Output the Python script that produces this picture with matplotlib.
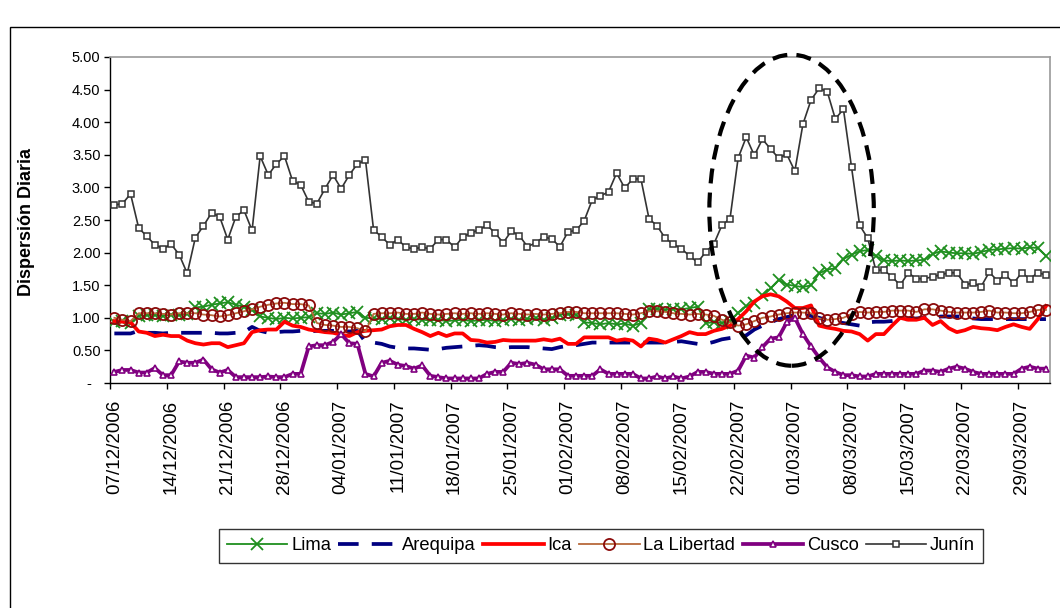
import numpy as np
import pandas as pd
import matplotlib
matplotlib.use("Agg")
import matplotlib.pyplot as plt
from matplotlib.patches import Ellipse, Rectangle

plt.rcParams['font.family'] = ['Liberation Sans', 'DejaVu Sans']

# ---------------- data ----------------
dates = pd.date_range("2006-12-07", "2007-04-01", freq="D")

lima = [0.93, 0.95, 0.92, 1.03, 1.04, 1.05, 1.03, 1.05, 1.04, 1.06,
        1.16, 1.17, 1.20, 1.22, 1.24, 1.20, 1.17, 1.12, 1.02, 1.00,
        0.98, 1.00, 0.99, 1.00, 1.01, 1.07, 1.06, 1.08, 1.05, 1.07,
        1.09, 1.00, 0.99, 0.98, 1.00, 0.98, 0.97, 0.98, 0.97, 0.96,
        0.97, 0.95, 0.96, 0.97, 0.95, 0.96, 0.97, 0.95, 0.96, 0.98,
        0.97, 0.98, 0.99, 0.97, 0.99, 1.05, 1.06, 1.05, 0.93, 0.92,
        0.90, 0.92, 0.90, 0.91, 0.88, 0.92, 1.13, 1.14, 1.12, 1.14,
        1.13, 1.15, 1.17, 0.92, 0.93, 0.92, 0.95, 1.08, 1.18, 1.22,
        1.35, 1.45, 1.58, 1.51, 1.49, 1.47, 1.50, 1.68, 1.74, 1.76,
        1.90, 1.97, 2.02, 2.04, 1.95, 1.88, 1.87, 1.88, 1.87, 1.88,
        1.89, 1.98, 2.02, 2.00, 1.99, 1.99, 1.98, 2.01, 2.04, 2.05,
        2.06, 2.07, 2.06, 2.08, 2.07, 1.95]

arequipa = [0.76, 0.76, 0.76, 0.80, 0.77, 0.77, 0.76, 0.77, 0.77, 0.77,
            0.77, 0.77, 0.77, 0.76, 0.76, 0.77, 0.78, 0.86, 0.80, 0.77,
            0.78, 0.79, 0.79, 0.80, 0.79, 0.80, 0.80, 0.80, 0.80, 0.79,
            0.80, 0.63, 0.62, 0.60, 0.56, 0.54, 0.53, 0.53, 0.52, 0.51,
            0.52, 0.54, 0.55, 0.56, 0.57, 0.58, 0.57, 0.55, 0.54, 0.55,
            0.55, 0.55, 0.54, 0.53, 0.52, 0.55, 0.57, 0.58, 0.60, 0.62,
            0.62, 0.62, 0.62, 0.62, 0.62, 0.62, 0.62, 0.62, 0.62, 0.63,
            0.64, 0.62, 0.60, 0.60, 0.63, 0.67, 0.69, 0.71, 0.73, 0.82,
            0.88, 0.93, 0.98, 1.01, 1.04, 1.05, 1.03, 1.00, 0.96, 0.94,
            0.92, 0.90, 0.88, 0.93, 0.94, 0.94, 0.95, 0.97, 0.98, 0.99,
            1.00, 0.98, 1.02, 1.02, 1.02, 1.02, 0.99, 0.98, 0.98, 0.98,
            0.98, 0.98, 0.98, 0.98, 0.98, 0.98]

ica = [0.95, 0.94, 0.93, 0.79, 0.77, 0.72, 0.74, 0.72, 0.72, 0.65,
       0.61, 0.59, 0.61, 0.61, 0.55, 0.58, 0.61, 0.78, 0.81, 0.82,
       0.82, 0.94, 0.88, 0.86, 0.82, 0.80, 0.78, 0.77, 0.74, 0.72,
       0.78, 0.80, 0.81, 0.82, 0.87, 0.89, 0.89, 0.83, 0.78, 0.72,
       0.77, 0.72, 0.76, 0.76, 0.66, 0.65, 0.62, 0.63, 0.66, 0.65,
       0.65, 0.65, 0.65, 0.67, 0.65, 0.68, 0.60, 0.60, 0.70, 0.70,
       0.70, 0.70, 0.65, 0.67, 0.65, 0.56, 0.68, 0.66, 0.62, 0.67,
       0.72, 0.78, 0.75, 0.75, 0.80, 0.83, 0.88, 0.98, 1.10, 1.25,
       1.33, 1.36, 1.33, 1.25, 1.15, 1.15, 1.19, 0.88, 0.85, 0.83,
       0.80, 0.79, 0.75, 0.65, 0.75, 0.75, 0.88, 1.00, 0.97, 0.97,
       1.00, 0.89, 0.95, 0.84, 0.78, 0.81, 0.86, 0.84, 0.83, 0.81,
       0.86, 0.90, 0.86, 0.83, 0.98, 1.18]

la_libertad = [1.00, 0.97, 0.95, 1.07, 1.07, 1.07, 1.06, 1.05, 1.07, 1.07,
               1.07, 1.05, 1.04, 1.02, 1.04, 1.07, 1.10, 1.13, 1.17, 1.20,
               1.22, 1.23, 1.21, 1.21, 1.19, 0.92, 0.89, 0.88, 0.86, 0.86,
               0.84, 0.79, 1.06, 1.07, 1.07, 1.08, 1.06, 1.06, 1.08, 1.06,
               1.05, 1.06, 1.07, 1.06, 1.07, 1.06, 1.07, 1.06, 1.05, 1.07,
               1.06, 1.05, 1.06, 1.05, 1.06, 1.07, 1.09, 1.09, 1.07, 1.07,
               1.07, 1.07, 1.07, 1.06, 1.05, 1.07, 1.10, 1.10, 1.09, 1.07,
               1.06, 1.05, 1.06, 1.05, 1.03, 0.97, 0.93, 0.88, 0.90, 0.95,
               1.00, 1.02, 1.05, 1.07, 1.08, 1.08, 1.07, 0.99, 0.97, 0.98,
               1.00, 1.06, 1.09, 1.08, 1.09, 1.09, 1.11, 1.11, 1.11, 1.09,
               1.13, 1.13, 1.11, 1.09, 1.08, 1.08, 1.08, 1.09, 1.11, 1.08,
               1.08, 1.07, 1.07, 1.09, 1.12, 1.12]

cusco = [0.17, 0.20, 0.20, 0.16, 0.16, 0.23, 0.12, 0.12, 0.33, 0.31,
         0.31, 0.36, 0.21, 0.16, 0.20, 0.09, 0.09, 0.09, 0.09, 0.10,
         0.09, 0.09, 0.14, 0.14, 0.56, 0.58, 0.58, 0.63, 0.75, 0.61,
         0.60, 0.14, 0.10, 0.31, 0.34, 0.28, 0.26, 0.22, 0.27, 0.11,
         0.09, 0.07, 0.07, 0.07, 0.07, 0.07, 0.14, 0.17, 0.17, 0.31,
         0.29, 0.31, 0.28, 0.21, 0.21, 0.21, 0.11, 0.11, 0.11, 0.11,
         0.21, 0.14, 0.14, 0.14, 0.14, 0.07, 0.07, 0.10, 0.07, 0.10,
         0.07, 0.10, 0.17, 0.17, 0.14, 0.14, 0.14, 0.19, 0.42, 0.39,
         0.55, 0.68, 0.70, 0.93, 1.00, 0.75, 0.56, 0.39, 0.24, 0.17,
         0.12, 0.12, 0.10, 0.10, 0.14, 0.14, 0.14, 0.14, 0.14, 0.14,
         0.19, 0.19, 0.17, 0.22, 0.25, 0.22, 0.17, 0.14, 0.14, 0.14,
         0.14, 0.14, 0.22, 0.25, 0.22, 0.22]

junin = [2.73, 2.75, 2.90, 2.38, 2.25, 2.12, 2.06, 2.13, 1.97, 1.68,
         2.23, 2.41, 2.61, 2.55, 2.20, 2.55, 2.65, 2.34, 3.48, 3.19,
         3.36, 3.48, 3.10, 3.04, 2.78, 2.75, 2.98, 3.19, 2.98, 3.19,
         3.36, 3.42, 2.35, 2.24, 2.12, 2.20, 2.08, 2.06, 2.08, 2.06,
         2.20, 2.20, 2.08, 2.24, 2.30, 2.35, 2.42, 2.30, 2.15, 2.33,
         2.26, 2.09, 2.15, 2.24, 2.21, 2.09, 2.32, 2.34, 2.49, 2.81,
         2.87, 2.93, 3.22, 2.99, 3.13, 3.13, 2.52, 2.41, 2.22, 2.13,
         2.06, 1.95, 1.85, 2.01, 2.13, 2.42, 2.52, 3.45, 3.77, 3.49,
         3.74, 3.59, 3.45, 3.51, 3.25, 3.97, 4.34, 4.52, 4.47, 4.05,
         4.20, 3.31, 2.42, 2.22, 1.73, 1.73, 1.63, 1.50, 1.69, 1.60,
         1.60, 1.63, 1.66, 1.69, 1.69, 1.51, 1.53, 1.48, 1.70, 1.57,
         1.66, 1.53, 1.69, 1.60, 1.69, 1.66]

series_names = ["Lima", "Arequipa", "Ica", "La Libertad", "Cusco", "Junín"]
y_ticks = [0.0, 0.5, 1.0, 1.5, 2.0, 2.5, 3.0, 3.5, 4.0, 4.5, 5.0]
y_tick_labels = ["-  ", "0.50", "1.00", "1.50", "2.00", "2.50", "3.00",
                 "3.50", "4.00", "4.50", "5.00"]
tick_step_days = 7
# highlighted period (ellipse): centre day index, centre value, spans
highlight = dict(center_day=83.6, center_val=2.65, span_days=20.3, span_val=4.77)

# ---------------- figure ----------------
W, H = 1060, 608
fig = plt.figure(figsize=(W / 100, H / 100), dpi=100)
fig.patch.set_facecolor("white")

# outer chart frame
fig.add_artist(Rectangle((10 / W, -0.05), 1.2, 1 - 27 / H + 0.05,
                         transform=fig.transFigure, fill=False,
                         edgecolor="black", lw=1.0))

ax = fig.add_axes([110.3 / W, 1 - 383 / H, (1050 - 110.3) / W, (383 - 57) / H])

x = np.arange(len(dates))

ax.plot(x, lima, color="#1f8f1f", lw=1.3, marker="x", ms=8, mew=1.3,
        label=series_names[0], zorder=3)
ax.plot(x, arequipa, color="#000080", lw=2.7, linestyle=(0, (5.5, 3.5)),
        label=series_names[1], zorder=3)
ax.plot(x, ica, color="#ff0000", lw=2.7, label=series_names[2], zorder=3)
ax.plot(x, la_libertad, color="#b8693a", lw=1.3, marker="o", ms=8,
        mfc="none", mec="#8b0a0a", mew=1.3, label=series_names[3], zorder=3)
ax.plot(x, cusco, color="#800080", lw=2.7, marker="^", ms=5, mfc="white",
        mec="#800080", mew=1.2, label=series_names[4], zorder=3)
ax.plot(x, junin, color="#333333", lw=1.2, marker="s", ms=5, mfc="white",
        mec="#333333", mew=1.1, label=series_names[5], zorder=4)

ell = Ellipse((highlight["center_day"], highlight["center_val"]),
              highlight["span_days"], highlight["span_val"],
              fill=False, edgecolor="black", lw=3.0,
              linestyle=(0, (3.6, 2.2)), clip_on=False, zorder=6)
ax.add_patch(ell)

ax.set_xlim(-0.5, len(dates) - 0.5)
ax.set_ylim(0, 5)

ax.set_yticks(y_ticks)
ax.set_yticklabels(y_tick_labels, fontsize=10.5)
ax.tick_params(axis="y", direction="out", length=4, width=1, pad=3)

label_idx = np.arange(0, len(dates), tick_step_days)
ax.set_xticks(label_idx - 0.5)
ax.set_xticklabels([])
ax.set_xticks(label_idx, minor=True)
ax.set_xticklabels([dates[i].strftime("%d/%m/%Y") for i in label_idx],
                   minor=True, rotation=90, fontsize=13.5)
ax.tick_params(axis="x", which="major", direction="out", length=4, width=1)
ax.tick_params(axis="x", which="minor", length=0, pad=12)

for side in ["left", "bottom"]:
    ax.spines[side].set_color("black")
    ax.spines[side].set_linewidth(1.0)
for side in ["top", "right"]:
    ax.spines[side].set_color("#9a9a9a")
    ax.spines[side].set_linewidth(1.2)

fig.text(27 / W, 1 - 222 / H, "Dispersión Diaria", rotation=90,
         ha="center", va="center", fontsize=13, fontweight="bold")

leg = fig.legend(loc="center", bbox_to_anchor=(601 / W, 1 - 546 / H),
                 ncol=6, frameon=True, fancybox=False, fontsize=13.2,
                 handlelength=3.3, handletextpad=0.2, columnspacing=0.4,
                 borderpad=0.45, numpoints=1)
leg.get_frame().set_edgecolor("black")
leg.get_frame().set_linewidth(1.0)

fig.savefig("out.png", dpi=100)
